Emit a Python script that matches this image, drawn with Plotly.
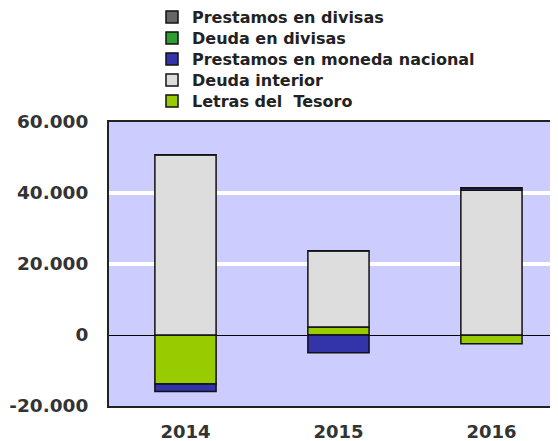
import plotly.graph_objects as go

years = ["2014", "2015", "2016"]
letras_tesoro = [-13800, 2250, -2450]
deuda_interior = [50800, 21500, 40800]
prestamos_moneda_nacional = [-2100, -5000, 700]
deuda_divisas = [0, 0, 0]
prestamos_divisas = [0, 0, 0]

y_tickvals = [-20000, 0, 20000, 40000, 60000]
y_ticktext = ["-20.000", "0", "20.000", "40.000", "60.000"]

FONT = "DejaVu Sans"
# the page body has an 8px default margin; the figure is sized to fit the window
OFF = 8
W, H = 558 - OFF, 441 - OFF

series = [
    ("Letras del  Tesoro", letras_tesoro, "#99CC00", "legend5"),
    ("Deuda interior", deuda_interior, "#DDDDDD", "legend4"),
    ("Prestamos en moneda nacional", prestamos_moneda_nacional, "#3333AA", "legend3"),
    ("Deuda en divisas", deuda_divisas, "#2E9E2E", "legend2"),
    ("Prestamos en divisas", prestamos_divisas, "#666666", "legend"),
]

fig = go.Figure()
for name, vals, color, lg in series:
    fig.add_trace(go.Bar(
        x=years, y=vals, name=name, width=0.4,
        marker=dict(color=color, line=dict(color="#111111", width=1.5)),
        legend=lg,
    ))

legend_y_px = {"legend": 17, "legend2": 38, "legend3": 59, "legend4": 80, "legend5": 101}
legend_common = dict(
    xref="container", yref="container", x=(152 - OFF) / W, xanchor="left", yanchor="middle",
    bgcolor="rgba(0,0,0,0)", borderwidth=0,
    font=dict(family=FONT, size=16, color="#222222", weight="bold"),
)
layout_legends = {}
for key, py in legend_y_px.items():
    layout_legends[key] = dict(legend_common, y=1 - (py - OFF) / H)

fig.update_layout(
    width=W, height=H,
    margin=dict(l=109 - OFF, r=0, t=122 - OFF, b=35, autoexpand=False),
    paper_bgcolor="white",
    plot_bgcolor="#CCCCFF",
    barmode="relative",
    showlegend=True,
    **layout_legends,
)
fig.update_xaxes(
    type="category", range=[-0.5, 2.435],
    showline=True, linecolor="#222222", linewidth=2, mirror=True,
    showgrid=False, ticks="", ticklabelstandoff=8,
    tickfont=dict(family=FONT, size=18, color="#333333", weight="bold"),
    automargin=False,
)
fig.update_yaxes(
    range=[-20000, 60000], tickvals=y_tickvals, ticktext=y_ticktext,
    showline=True, linecolor="#222222", linewidth=2, mirror=False,
    showgrid=True, gridcolor="white", gridwidth=4,
    zeroline=True, zerolinecolor="#000000", zerolinewidth=1,
    ticks="", ticklabelstandoff=15,
    tickfont=dict(family=FONT, size=18.5, color="#333333", weight="bold"),
    automargin=False,
)

fig.write_html("out.html")
